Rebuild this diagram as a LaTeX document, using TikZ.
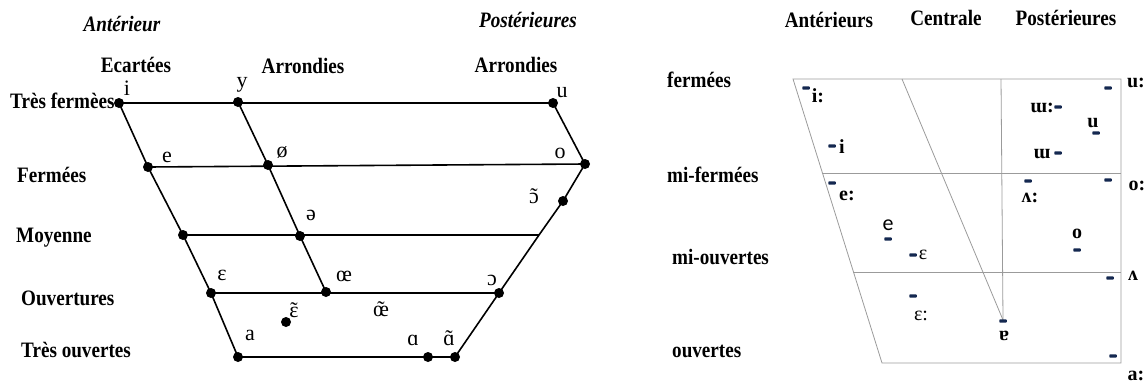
\documentclass[tikz,border=0pt]{standalone}
\usepackage{fontspec}
\setmainfont{Liberation Serif}[FakeStretch=0.87]
\newfontfamily\ipafont{Liberation Serif}
\newfontfamily\ipasans{Carlito}
\newcommand\nasal[1]{\accent"02DC #1}
\definecolor{navy}{RGB}{20,40,80}
\definecolor{gridgray}{RGB}{155,155,155}
\begin{document}
\begin{tikzpicture}[x={(1pt,0pt)},y={(0pt,-1pt)},
  dot/.style={circle,fill=black,inner sep=0pt,minimum size=10pt},
  lline/.style={line width=1.6pt,black},
  rline/.style={line width=0.8pt,gridgray},
  vmark/.style={rectangle,rounded corners=0.8pt,fill=navy,inner sep=0pt,minimum width=7.5pt,minimum height=3.2pt},
  hdr/.style={font=\fontsize{22}{24}\selectfont\bfseries,anchor=base,inner sep=0pt},
  ttl/.style={font=\fontsize{22}{24}\selectfont\bfseries\itshape,anchor=base,inner sep=0pt},
  rowl/.style={font=\fontsize{22}{24}\selectfont\bfseries,anchor=base west,inner sep=0pt},
  ipa/.style={font=\ipafont\fontsize{22}{24}\selectfont,anchor=base,inner sep=0pt},
  ipb/.style={font=\ipafont\fontsize{20}{22}\selectfont\bfseries,anchor=base,inner sep=0pt},
  ipr/.style={font=\ipafont\fontsize{20}{22}\selectfont,anchor=base,inner sep=0pt},
]
\useasboundingbox (0,0) rectangle (1147,383);

% ---------------- Left diagram ----------------
\node[ttl] (tant) at (122,31) {Antérieur};
\node[ttl] (tpost) at (528,27) {Postérieures};
\node[hdr] (hecart) at (136,72) {Ecartées};
\node[hdr] (harr1) at (303,73) {Arrondies};
\node[hdr] (harr2) at (516,72) {Arrondies};

\node[rowl] (r1) at (10,108) {Très fermèes};
\node[rowl] (r2) at (17,182) {Fermées};
\node[rowl] (r3) at (16,242) {Moyenne};
\node[rowl] (r4) at (21,305) {Ouvertures};
\node[rowl] (r5) at (21,357) {Très ouvertes};

\node[dot] (di) at (119,103) {};
\node[dot] (dy) at (238,102) {};
\node[dot] (du) at (553,103) {};
\node[dot] (de) at (148,167) {};
\node[dot] (doe) at (268,165) {};
\node[dot] (do) at (585,164) {};
\node[dot] (don) at (563,201) {};
\node[dot] (dm) at (183,235) {};
\node[dot] (dschwa) at (300,236) {};
\coordinate (mr) at (539,235);
\node[dot] (deps) at (211,293) {};
\node[dot] (doel) at (326,292) {};
\node[dot] (dopen) at (499,293) {};
\node[dot] (depsn) at (286,322) {};
\node[dot] (da) at (238,357) {};
\node[dot] (dalpha) at (428,357) {};
\node[dot] (dalphan) at (455,357) {};

\draw[lline] (di.center) -- (du.center);
\draw[lline] (de.center) -- (do.center);
\draw[lline] (dm.center) -- (mr);
\draw[lline] (deps.center) -- (dopen.center);
\draw[lline] (da.center) -- (dalpha.center) -- (dalphan.center);
\draw[lline] (di.center) -- (de.center) -- (dm.center) -- (deps.center) -- (da.center);
\draw[lline] (dy.center) -- (doe.center) -- (dschwa.center) -- (doel.center);
\draw[lline] (du.center) -- (do.center) -- (don.center) -- (mr) -- (dopen.center) -- (dalphan.center);

\node[ipa] (li) at (127,95) {i};
\node[ipa] (ly) at (242,87) {y};
\node[ipa] (lu) at (562,97) {u};
\node[ipa] (le) at (167,162) {e};
\node[ipa] (lø) at (282,157) {ø};
\node[ipa] (lo) at (560,158) {o};
\node[ipa] (lon) at (534,203) {\nasal{ɔ}};
\node[ipa] (lschwa) at (311,220) {ə};
\node[ipa] (leps) at (222,280) {ɛ};
\node[ipa] (loel) at (344,281) {œ};
\node[ipa] (lopen) at (492,285) {ɔ};
\node[ipa] (loen) at (381,316) {\nasal{œ}};
\node[ipa] (lepsn) at (294,317) {\nasal{ɛ}};
\node[ipa] (la) at (250,340) {a};
\node[ipa] (lalpha) at (413,345) {ɑ};
\node[ipa] (lalphan) at (449,345) {\nasal{ɑ}};

% ---------------- Right diagram ----------------
\node[hdr] (hant) at (829,27) {Antérieurs};
\node[hdr] (hcen) at (946,25) {Centrale};
\node[hdr] (hpos) at (1066,25) {Postérieures};

\node[rowl] (q1) at (667,87) {fermées};
\node[rowl] (q2) at (667,182) {mi-fermées};
\node[rowl] (q3) at (672,264) {mi-ouvertes};
\node[rowl] (q4) at (672,357) {ouvertes};

\coordinate (tl) at (793,79);
\coordinate (tr) at (1121,79);
\coordinate (l2) at (822,173);
\coordinate (r2c) at (1121,173);
\coordinate (l3) at (853,272);
\coordinate (r3c) at (1121,272);
\coordinate (bl) at (882,363);
\coordinate (br) at (1121,363);
\coordinate (ct) at (902,79);
\coordinate (pt) at (1001,79);
\coordinate (cb) at (1003,320);

\draw[rline] (tl) -- (tr) -- (br) -- (bl) -- cycle;
\draw[rline] (l2) -- (r2c);
\draw[rline] (l3) -- (r3c);
\draw[rline] (ct) -- (cb);
\draw[rline] (pt) -- (cb);

\node[vmark] (m1) at (806,88) {};
\node[ipb] (t1) at (818,102) {i:};
\node[vmark] (m2) at (832,146) {};
\node[ipb] (t2) at (842,153) {i};
\node[vmark] (m3) at (832,183) {};
\node[ipb] (t3) at (847,200) {e:};
\node[vmark] (m4) at (888,239) {};
\node[font=\ipasans\fontsize{22}{24}\selectfont,anchor=base,inner sep=0pt] (t4) at (888,230) {e};
\node[vmark] (m5) at (913,255) {};
\node[ipr] (t5) at (923,259) {ɛ};
\node[vmark] (m6) at (913,296) {};
\node[ipr] (t6) at (921,320) {ɛ:};
\node[vmark] (m7) at (1003,321) {};
\node[ipb] (t7) at (1004,340) {ɐ};
\node[vmark] (m8) at (1028,181) {};
\node[ipb] (t8) at (1030,202) {ʌ:};
\node[vmark] (m9) at (1077,250) {};
\node[ipb] (t9) at (1077,238) {o};
\node[vmark] (m10) at (1108,180) {};
\node[ipb] (t10) at (1137,190) {o:};
\node[vmark] (m11) at (1108,88) {};
\node[ipb] (t11) at (1136,87) {u:};
\node[vmark] (m12) at (1058,107) {};
\node[ipb] (t12) at (1042,112) {ɯ:};
\node[vmark] (m13) at (1096,133) {};
\node[ipb] (t13) at (1093,127) {u};
\node[vmark] (m14) at (1058,153) {};
\node[ipb] (t14) at (1042,158) {ɯ};
\node[vmark] (m15) at (1110,278) {};
\node[ipb] (t15) at (1133,280) {ʌ};
\node[vmark] (m16) at (1113,356) {};
\node[ipb] (t16) at (1136,380) {a:};
\end{tikzpicture}
\end{document}
